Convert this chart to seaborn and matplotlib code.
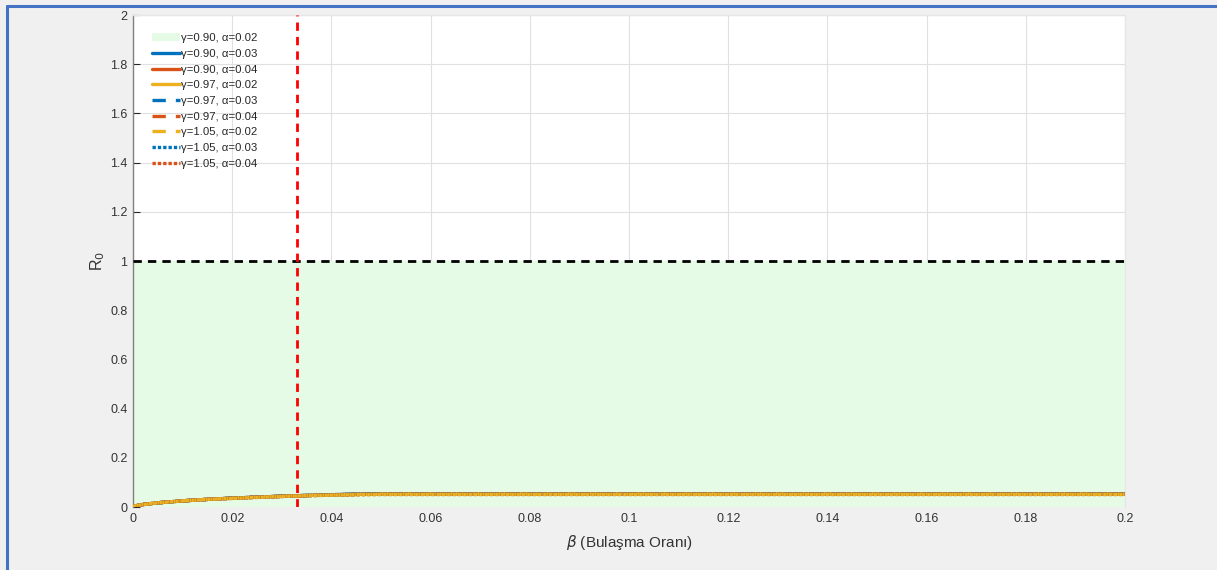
import matplotlib
matplotlib.use("Agg")
import matplotlib.pyplot as plt
from matplotlib.lines import Line2D
import seaborn as sns
import numpy as np

# Transmission rate grid and R0 values for each (gamma, alpha) pair
beta = [0.0, 0.002, 0.005, 0.01, 0.015, 0.02, 0.025, 0.03, 0.035, 0.04, 0.045, 0.05, 0.2]

r0_g090_a002 = [0.003, 0.010, 0.017, 0.025, 0.031, 0.036, 0.040, 0.044, 0.047, 0.050, 0.052, 0.054, 0.054]
r0_g090_a003 = [0.003, 0.010, 0.017, 0.025, 0.031, 0.036, 0.040, 0.044, 0.047, 0.050, 0.052, 0.054, 0.054]
r0_g090_a004 = [0.003, 0.010, 0.017, 0.025, 0.031, 0.036, 0.040, 0.044, 0.047, 0.049, 0.051, 0.053, 0.053]
r0_g097_a002 = [0.003, 0.010, 0.017, 0.025, 0.031, 0.036, 0.040, 0.044, 0.047, 0.050, 0.052, 0.054, 0.054]
r0_g097_a003 = [0.003, 0.010, 0.017, 0.025, 0.031, 0.036, 0.040, 0.043, 0.046, 0.049, 0.051, 0.053, 0.053]
r0_g097_a004 = [0.003, 0.010, 0.017, 0.025, 0.031, 0.036, 0.040, 0.043, 0.046, 0.049, 0.051, 0.052, 0.052]
r0_g105_a002 = [0.003, 0.010, 0.017, 0.025, 0.031, 0.036, 0.040, 0.043, 0.046, 0.049, 0.051, 0.052, 0.052]
r0_g105_a003 = [0.003, 0.010, 0.017, 0.025, 0.031, 0.035, 0.039, 0.043, 0.046, 0.048, 0.050, 0.051, 0.051]
r0_g105_a004 = [0.003, 0.010, 0.017, 0.025, 0.031, 0.035, 0.039, 0.043, 0.046, 0.048, 0.050, 0.051, 0.051]

series = [r0_g090_a002, r0_g090_a003, r0_g090_a004,
          r0_g097_a002, r0_g097_a003, r0_g097_a004,
          r0_g105_a002, r0_g105_a003, r0_g105_a004]

legend_labels = ["γ=0.90, α=0.02", "γ=0.90, α=0.03", "γ=0.90, α=0.04",
                 "γ=0.97, α=0.02", "γ=0.97, α=0.03", "γ=0.97, α=0.04",
                 "γ=1.05, α=0.02", "γ=1.05, α=0.03", "γ=1.05, α=0.04"]

threshold_r0 = 1.0
critical_beta = 0.033

xticks = [0, 0.02, 0.04, 0.06, 0.08, 0.1, 0.12, 0.14, 0.16, 0.18, 0.2]
xtick_labels = ["0", "0.02", "0.04", "0.06", "0.08", "0.1", "0.12", "0.14", "0.16", "0.18", "0.2"]
yticks = [0, 0.2, 0.4, 0.6, 0.8, 1.0, 1.2, 1.4, 1.6, 1.8, 2.0]
ytick_labels = ["0", "0.2", "0.4", "0.6", "0.8", "1", "1.2", "1.4", "1.6", "1.8", "2"]

sns.set_theme(style="whitegrid")
plt.rcParams["font.family"] = ["Liberation Sans", "DejaVu Sans"]

colors = ["#0072BD", "#D95319", "#EDB120"]
styles = ["-", (0, (4, 3)), (0, (1, 0.6))]

fig = plt.figure(figsize=(12.17, 5.70), dpi=100, facecolor="#f0f0f0")
ax = fig.add_axes([133 / 1217, 1 - 507 / 570, (1125 - 133) / 1217, (507 - 15) / 570])
ax.set_facecolor("white")

# Stable region (R0 < 1)
fill = ax.fill_between([0, 0.2], 0, threshold_r0, color="#e5fbe5", lw=0, zorder=1)

lines = []
for i, r0 in enumerate(series):
    c = colors[i % 3]
    ls = styles[i // 3]
    sns.lineplot(x=beta, y=r0, ax=ax, color=c, linestyle=ls, lw=2.4, zorder=3)
    lines.append(ax.get_lines()[-1])

ax.axhline(threshold_r0, color="black", linestyle=(0, (3, 2.2)), lw=2.0, zorder=4)
ax.axvline(critical_beta, color="#ff0000", linestyle=(0, (3, 2.2)), lw=2.0, zorder=4)

ax.set_xlim(0, 0.2)
ax.set_ylim(0, 2)
ax.set_xticks(xticks)
ax.set_xticklabels(xtick_labels)
ax.set_yticks(yticks)
ax.set_yticklabels(ytick_labels)
ax.grid(True, color="#e0e0e0", lw=0.8, zorder=0)
ax.set_axisbelow(True)

ax.tick_params(axis="both", labelsize=9, colors="#333333", pad=4)
ax.tick_params(axis="y", direction="in", length=5, width=0.8, color="#262626", left=True)
ax.tick_params(axis="x", length=0)

for side in ["top", "right"]:
    ax.spines[side].set_color("#e6e6e6")
    ax.spines[side].set_linewidth(1.0)
ax.spines["left"].set_color("#808080")
ax.spines["left"].set_linewidth(1.0)
ax.spines["bottom"].set_visible(False)

ax.set_xlabel(r"$\beta$ (Bulaşma Oranı)", fontsize=11, color="#333333", labelpad=6)
ax.set_ylabel(r"R$_0$", fontsize=11.5, color="#333333", labelpad=2)

handles = [fill] + lines[:8]
leg = ax.legend(handles, legend_labels, loc="upper left", bbox_to_anchor=(0.011, 0.979),
                frameon=False, fontsize=8.2, handlelength=2.5, handletextpad=0.1,
                labelspacing=0.5, borderaxespad=0.3)
for t in leg.get_texts():
    t.set_color("#262626")

# Blue frame around the figure
fig.add_artist(Line2D([7 / 1217, 7 / 1217], [0, 1 - 6 / 570], color="#4472c4", lw=2.2,
                      transform=fig.transFigure))
fig.add_artist(Line2D([7 / 1217, 1], [1 - 6 / 570, 1 - 6 / 570], color="#4472c4", lw=2.2,
                      transform=fig.transFigure))

fig.savefig("out.png", dpi=100, facecolor=fig.get_facecolor())
